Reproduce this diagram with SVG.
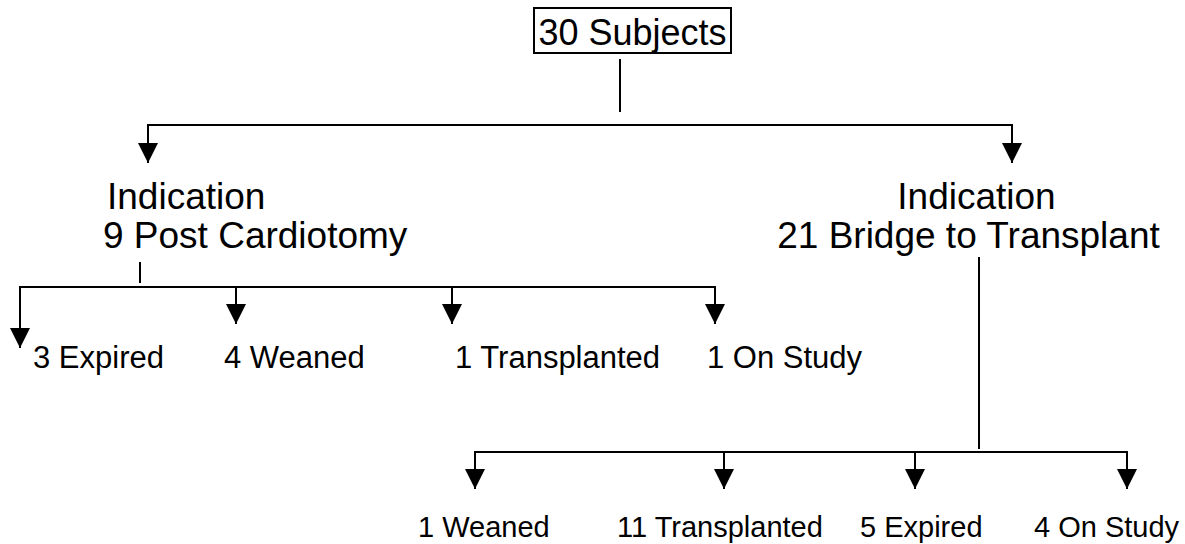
<svg xmlns="http://www.w3.org/2000/svg" width="1185" height="544" viewBox="0 0 1185 544">
<style>
text{font-family:"Liberation Sans",Arial,sans-serif;fill:#000}
.l{stroke:#000;stroke-width:2;fill:none}
.top{font-size:36px}
.big{font-size:37px}
.mid{font-size:31px}
.sm{font-size:29px}
</style>
<defs>
<marker id="ah" markerUnits="userSpaceOnUse" markerWidth="20" markerHeight="20" refX="20" refY="10" orient="auto" viewBox="0 0 20 20">
<path d="M0,0 L20,10 L0,20 z" fill="#000"/>
</marker>
</defs>
<g id="connectors">
<line class="l" x1="620" y1="59" x2="620" y2="112"/>
<polyline class="l" points="148,125 1012,125 1012,163" marker-end="url(#ah)"/>
<line class="l" x1="148" y1="124" x2="148" y2="163" marker-end="url(#ah)"/>
<line class="l" x1="140" y1="262" x2="140" y2="283"/>
<line class="l" x1="20" y1="287" x2="715" y2="287"/>
<line class="l" x1="20" y1="286" x2="20" y2="348" marker-end="url(#ah)"/>
<line class="l" x1="236" y1="287" x2="236" y2="324" marker-end="url(#ah)"/>
<line class="l" x1="452" y1="287" x2="452" y2="324" marker-end="url(#ah)"/>
<line class="l" x1="715" y1="286" x2="715" y2="324" marker-end="url(#ah)"/>
<line class="l" x1="979" y1="257" x2="979" y2="449"/>
<line class="l" x1="475" y1="452" x2="1127" y2="452"/>
<line class="l" x1="475" y1="451" x2="475" y2="489" marker-end="url(#ah)"/>
<line class="l" x1="724" y1="452" x2="724" y2="489" marker-end="url(#ah)"/>
<line class="l" x1="915" y1="452" x2="915" y2="489" marker-end="url(#ah)"/>
<line class="l" x1="1127" y1="451" x2="1127" y2="489" marker-end="url(#ah)"/>
</g>
<g id="root">
<rect x="534" y="8" width="197" height="45" fill="none" stroke="#000" stroke-width="2"/>
<text class="top" x="632.5" y="45" text-anchor="middle">30 Subjects</text>
</g>
<g id="post-cardiotomy">
<text class="big" x="107" y="209">Indication</text>
<text class="big" x="103" y="248">9 Post Cardiotomy</text>
</g>
<g id="bridge">
<text class="big" x="976.5" y="209" text-anchor="middle">Indication</text>
<text class="big" x="968.5" y="248" text-anchor="middle">21 Bridge to Transplant</text>
</g>
<g id="pc-expired"><text class="mid" x="33" y="368">3 Expired</text></g>
<g id="pc-weaned"><text class="mid" x="224" y="368">4 Weaned</text></g>
<g id="pc-transplanted"><text class="mid" x="455" y="368">1 Transplanted</text></g>
<g id="pc-onstudy"><text class="mid" x="707" y="368">1 On Study</text></g>
<g id="bt-weaned"><text class="sm" x="418" y="537">1 Weaned</text></g>
<g id="bt-transplanted"><text class="sm" x="617" y="537">11 Transplanted</text></g>
<g id="bt-expired"><text class="sm" x="860" y="537">5 Expired</text></g>
<g id="bt-onstudy"><text class="sm" x="1034" y="537">4 On Study</text></g>
</svg>
